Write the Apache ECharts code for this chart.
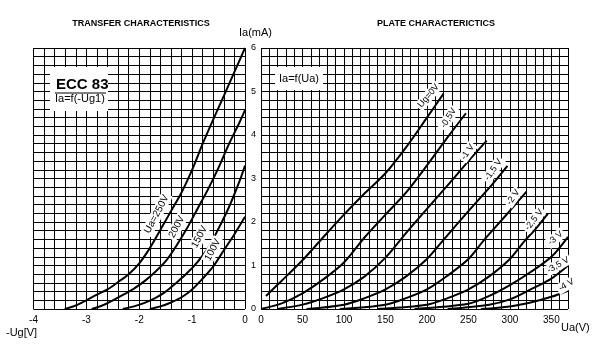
<!DOCTYPE html>
<html><head><meta charset="utf-8">
<script src="https://cdn.jsdelivr.net/npm/echarts@6/dist/echarts.min.js"></script>
<style>html,body{margin:0;padding:0;background:#fff}#c{width:600px;height:350px}</style>
</head><body><div id="c"></div>
<script>
// ---- Transfer characteristics: Ia (mA) vs -Ug (V)
const transferNames = ['Ua=250V', '200V', '150V', '100V'];
const ua250 = [[-3.41,0],[-3.2,0.08],[-3,0.2],[-2.8,0.33],[-2.6,0.45],[-2.4,0.62],[-2.2,0.8],[-2,1.05],[-1.8,1.4],[-1.6,1.82],[-1.4,2.25],[-1.2,2.68],[-1,3.2],[-0.8,3.8],[-0.6,4.36],[-0.4,4.9],[-0.2,5.45],[0,6.0]];
const ua200 = [[-2.9,0],[-2.7,0.08],[-2.5,0.2],[-2.3,0.33],[-2.1,0.47],[-1.9,0.64],[-1.7,0.85],[-1.5,1.1],[-1.3,1.45],[-1.1,1.85],[-0.9,2.3],[-0.7,2.75],[-0.5,3.25],[-0.3,3.8],[-0.1,4.3],[0,4.57]];
const ua150 = [[-2.31,0],[-2.1,0.06],[-1.9,0.14],[-1.7,0.25],[-1.5,0.4],[-1.3,0.6],[-1.1,0.82],[-0.9,1.08],[-0.7,1.4],[-0.5,1.85],[-0.3,2.35],[-0.1,2.95],[0,3.3]];
const ua100 = [[-1.8,0],[-1.6,0.06],[-1.4,0.15],[-1.2,0.27],[-1.0,0.45],[-0.8,0.7],[-0.6,0.98],[-0.4,1.35],[-0.2,1.72],[0,2.12]];
const transferSeries = [ua250, ua200, ua150, ua100];
const transferLabelAt = [[-1.67,2.18],[-1.29,1.89],[-0.86,1.66],[-0.61,1.36]];

// ---- Plate characteristics: Ia (mA) vs Ua (V)
const plateNames = ['Ug=0V', '-0,5V', '-1 V', '-1,5 V', '-2 V', '-2,5 V', '-3 V', '-3,5 V', '-4 V'];
const ug0   = [[6,0.3],[25,0.65],[50,1.12],[75,1.65],[100,2.17],[125,2.66],[150,3.12],[175,3.72],[200,4.4],[220,4.95]];
const ug05  = [[0,0],[25,0.13],[50,0.36],[75,0.68],[100,1.07],[125,1.65],[150,2.17],[175,2.68],[200,3.3],[225,3.95],[247,4.5]];
const ug10  = [[20,0],[50,0.1],[75,0.25],[100,0.45],[125,0.75],[150,1.18],[175,1.75],[200,2.3],[227,2.89],[250,3.4],[272,3.87]];
const ug15  = [[55,0],[100,0.1],[125,0.25],[150,0.45],[175,0.75],[200,1.15],[220,1.59],[250,2.25],[279,2.87],[297,3.29]];
const ug20  = [[95,0],[150,0.1],[175,0.25],[200,0.45],[225,0.77],[250,1.15],[269,1.59],[295,2.15],[320,2.7]];
const ug25  = [[140,0],[200,0.1],[225,0.25],[250,0.45],[275,0.75],[300,1.15],[317,1.55],[330,1.82],[346,2.2]];
const ug30  = [[185,0],[250,0.12],[275,0.3],[300,0.55],[325,0.85],[350,1.2],[370,1.66]];
const ug35  = [[225,0],[275,0.1],[300,0.22],[325,0.45],[350,0.7],[370,1.0]];
const ug40  = [[265,0],[300,0.06],[325,0.15],[350,0.28],[370,0.42]];
const plateSeries = [ug0, ug05, ug10, ug15, ug20, ug25, ug30, ug35, ug40];
const plateLabelAt = [[202,4.9],[226,4.39],[249,3.61],[280,3.2],[304,2.57],[329,2.05],[355,1.63],[358,1.01],[368,0.55]];
const plateLabelAngle = [50,58,55,55,55,52,40,30,30];

// ---- ticks
const yTicks = [0,1,2,3,4,5,6];
const xTicksTransfer = [-4,-3,-2,-1,0];
const xTicksPlate = [0,50,100,150,200,250,300,350];

const FONT = '"Liberation Sans", Arial, sans-serif';
const GRIDLINE = {color:'#000', width:1};
function fmtFrom(list){ return v => { const r = Math.round(v*1000)/1000; return list.includes(r) ? String(r) : ''; }; }
function axisCommon(){ return {type:'value', axisLine:{show:false}, axisTick:{show:false}, splitLine:{show:true, lineStyle:GRIDLINE}}; }

const chart = echarts.init(document.getElementById('c'), null, {renderer:'canvas'});
const series = [];
transferSeries.forEach((d,i)=>series.push({type:'line', name:transferNames[i], xAxisIndex:0, yAxisIndex:0, data:d, showSymbol:false, smooth:0.3, lineStyle:{color:'#000', width:2}, z:3, silent:true}));
plateSeries.forEach((d,i)=>series.push({type:'line', name:plateNames[i], xAxisIndex:1, yAxisIndex:1, data:d, showSymbol:false, smooth:0.3, lineStyle:{color:'#000', width:2}, z:3, silent:true}));

chart.setOption({
  animation:false,
  textStyle:{fontFamily:FONT},
  grid:[
    {left:33.5, right:355, top:48, bottom:41},
    {left:261, right:32, top:48, bottom:41}
  ],
  xAxis:[
    Object.assign(axisCommon(), {gridIndex:0, min:-4, max:0, interval:0.2, axisLabel:{interval:0, formatter:fmtFrom(xTicksTransfer), color:'#000', fontSize:10, margin:6, fontFamily:FONT}}),
    Object.assign(axisCommon(), {gridIndex:1, min:0, max:370, interval:10, axisLabel:{interval:0, formatter:fmtFrom(xTicksPlate), color:'#000', fontSize:10, margin:6, fontFamily:FONT}})
  ],
  yAxis:[
    Object.assign(axisCommon(), {gridIndex:0, min:0, max:6, interval:0.2, axisLabel:{show:false}}),
    Object.assign(axisCommon(), {gridIndex:1, min:0, max:6, interval:0.2, axisLabel:{interval:0, formatter:fmtFrom(yTicks), color:'#000', fontSize:9, margin:5, fontFamily:FONT}})
  ],
  series:series
});

const g = [];
g.push({type:'text', x:141, y:24, style:{text:'TRANSFER CHARACTERISTICS', font:'bold 9px '+FONT, fill:'#000', align:'center', verticalAlign:'middle'}});
g.push({type:'text', x:436, y:24, style:{text:'PLATE CHARACTERICTICS', font:'bold 9px '+FONT, fill:'#000', align:'center', verticalAlign:'middle'}});
g.push({type:'text', x:239, y:33, style:{text:'Ia(mA)', font:'11px '+FONT, fill:'#000', align:'left', verticalAlign:'middle'}});
g.push({type:'text', x:6, y:333, style:{text:'-Ug[V]', font:'11px '+FONT, fill:'#000', align:'left', verticalAlign:'middle'}});
g.push({type:'text', x:561, y:328, style:{text:'Ua(V)', font:'11px '+FONT, fill:'#000', align:'left', verticalAlign:'middle'}});
// boxes
g.push({type:'rect', shape:{x:50, y:67, width:58, height:44}, style:{fill:'#fff'}, z:10});
g.push({type:'text', x:56, y:85, z:11, style:{text:'ECC 83', font:'bold 15px '+FONT, fill:'#000', align:'left', verticalAlign:'middle'}});
g.push({type:'line', shape:{x1:55, y1:93, x2:106, y2:93}, style:{stroke:'#000', lineWidth:1}, z:11});
g.push({type:'text', x:55, y:99, z:11, style:{text:'Ia=f(-Ug1)', font:'11px '+FONT, fill:'#000', align:'left', verticalAlign:'middle'}});
g.push({type:'rect', shape:{x:275, y:67, width:48, height:23}, style:{fill:'#fff'}, z:10});
g.push({type:'text', x:299, y:79, z:11, style:{text:'Ia=f(Ua)', font:'11px '+FONT, fill:'#000', align:'center', verticalAlign:'middle'}});
// curve labels
transferLabelAt.forEach((p,i)=>{
  const px = chart.convertToPixel({gridIndex:0}, p);
  g.push({type:'text', x:px[0], y:px[1], rotation:62*Math.PI/180, z:12, style:{text:transferNames[i], font:'10px '+FONT, fill:'#000', align:'center', verticalAlign:'middle', backgroundColor:'#fff', padding:[1,2]}});
});
plateLabelAt.forEach((p,i)=>{
  const px = chart.convertToPixel({gridIndex:1}, p);
  g.push({type:'text', x:px[0], y:px[1], rotation:plateLabelAngle[i]*Math.PI/180, z:12, style:{text:plateNames[i], font:'9px '+FONT, fill:'#000', align:'center', verticalAlign:'middle', backgroundColor:'#fff', padding:[1,2]}});
});
chart.setOption({graphic:g});
</script></body></html>
